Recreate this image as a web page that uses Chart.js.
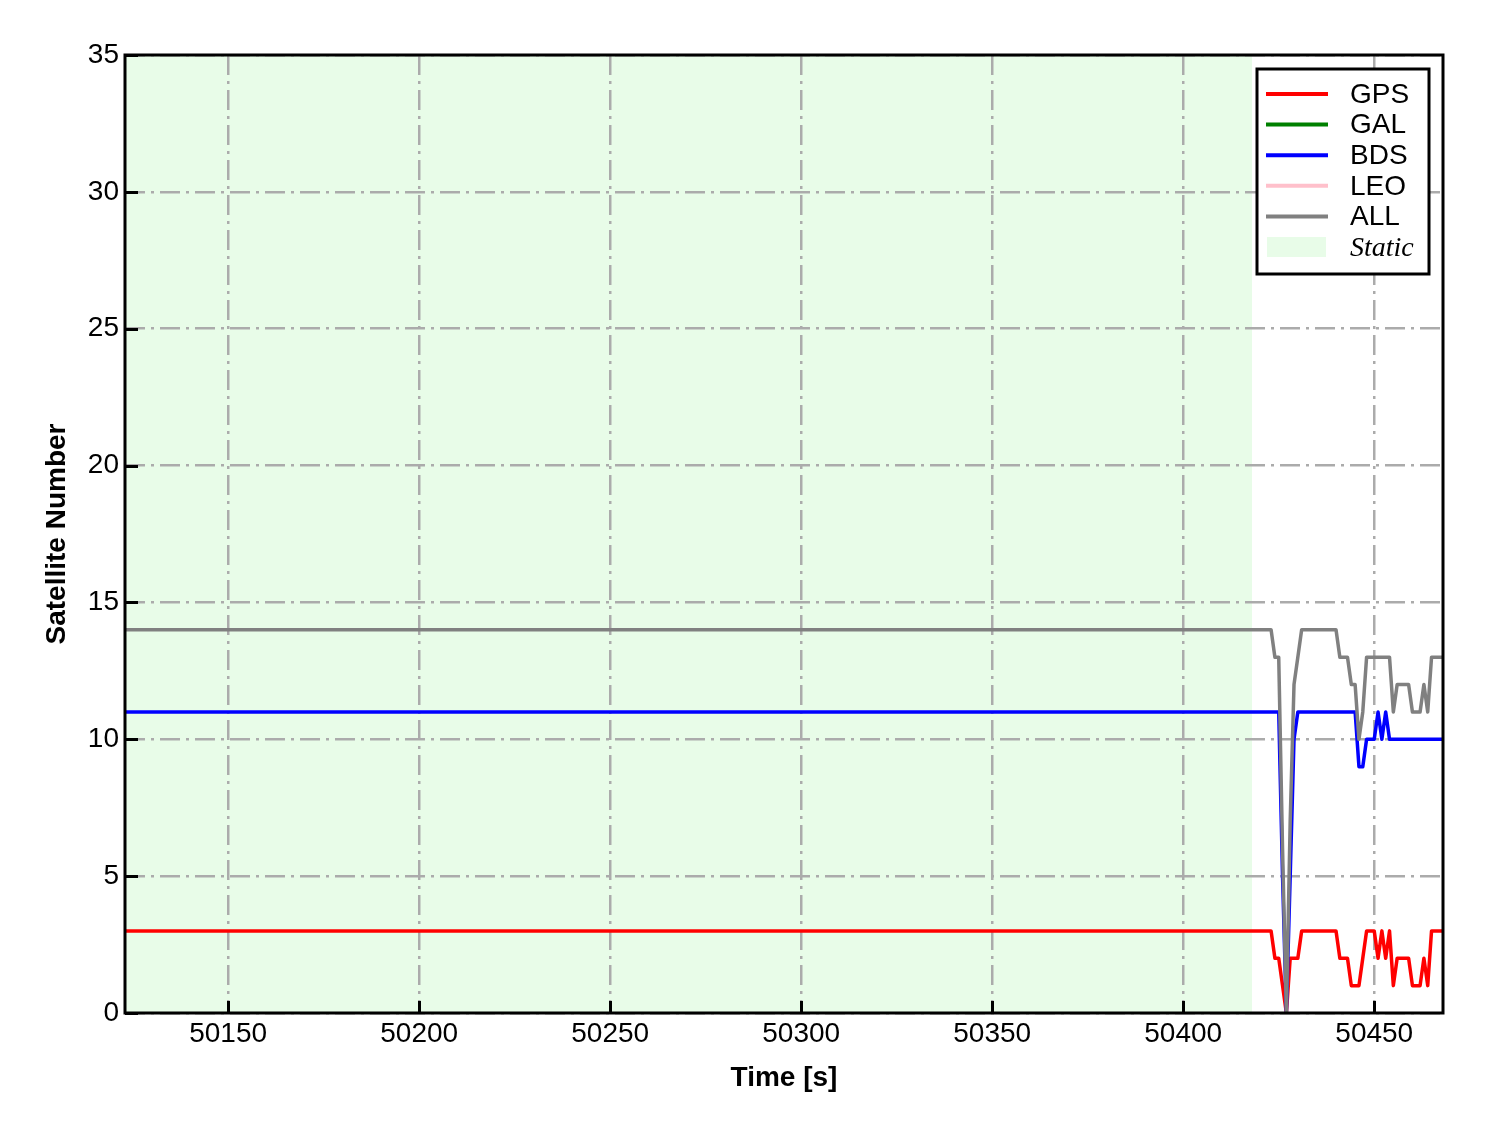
<!DOCTYPE html>
<html>
<head>
<meta charset="utf-8">
<script src="https://cdn.jsdelivr.net/npm/chart.js@4/dist/chart.umd.min.js"></script>
<style>
  html, body { margin: 0; padding: 0; background: #ffffff; }
  #wrap { width: 1488px; height: 1133px; }
</style>
</head>
<body>
<div id="wrap"><canvas id="c" width="1488" height="1133"></canvas></div>
<script>
// ---- data ----
const times = [50123,
  50418, 50419, 50420, 50421, 50422, 50423, 50424, 50425, 50426, 50427,
  50428, 50429, 50430, 50431, 50432, 50433, 50434, 50435, 50436, 50437,
  50438, 50439, 50440, 50441, 50442, 50443, 50444, 50445, 50446, 50447,
  50448, 50449, 50450, 50451, 50452, 50453, 50454, 50455, 50456, 50457,
  50458, 50459, 50460, 50461, 50462, 50463, 50464, 50465, 50466, 50467,
  50468];
const gps = [3,
  3, 3, 3, 3, 3, 3, 2, 2, 1, 0,
  2, 2, 2, 3, 3, 3, 3, 3, 3, 3,
  3, 3, 3, 2, 2, 2, 1, 1, 1, 2,
  3, 3, 3, 2, 3, 2, 3, 1, 2, 2,
  2, 2, 1, 1, 1, 2, 1, 3, 3, 3,
  3];
const gal = [];
const bds = [11,
  11, 11, 11, 11, 11, 11, 11, 11, 5, 0,
  5, 10, 11, 11, 11, 11, 11, 11, 11, 11,
  11, 11, 11, 11, 11, 11, 11, 11, 9, 9,
  10, 10, 10, 11, 10, 11, 10, 10, 10, 10,
  10, 10, 10, 10, 10, 10, 10, 10, 10, 10,
  10];
const leo = [];
const all = [14,
  14, 14, 14, 14, 14, 14, 13, 13, 6, 0,
  7, 12, 13, 14, 14, 14, 14, 14, 14, 14,
  14, 14, 14, 13, 13, 13, 12, 12, 10, 11,
  13, 13, 13, 13, 13, 13, 13, 11, 12, 12,
  12, 12, 11, 11, 11, 12, 11, 13, 13, 13,
  13];
const staticStart = 50123;
const staticEnd = 50418;
const xTickValues = [50150, 50200, 50250, 50300, 50350, 50400, 50450];
const yTickValues = [0, 5, 10, 15, 20, 25, 30, 35];
const seriesNames = ['GPS', 'GAL', 'BDS', 'LEO', 'ALL'];
const seriesColors = ['#ff0000', '#008000', '#0000ff', '#ffc0cb', '#808080'];
const staticColor = '#e8fce8';

const toPts = arr => arr.map((v, i) => ({ x: times[i], y: v }));
const seriesData = [gps, gal, bds, leo, all];

const datasets = seriesData.map((arr, i) => ({
  label: seriesNames[i],
  data: toPts(arr),
  borderColor: seriesColors[i],
  backgroundColor: seriesColors[i],
  borderWidth: 3.5,
  borderJoinStyle: 'round',
  borderCapStyle: 'round',
  pointRadius: 0,
  tension: 0,
  fill: false,
  order: 4 - i
}));

const FONT = '"Liberation Sans", Arial, sans-serif';

const bgPlugin = {
  id: 'bg',
  beforeDraw(chart) {
    const { ctx, chartArea: a, scales: { x } } = chart;
    ctx.save();
    ctx.fillStyle = '#ffffff';
    ctx.fillRect(0, 0, chart.width, chart.height);
    const x0 = Math.max(a.left, x.getPixelForValue(staticStart));
    const x1 = Math.min(a.right, x.getPixelForValue(staticEnd));
    ctx.fillStyle = staticColor;
    ctx.fillRect(x0, a.top, x1 - x0, a.bottom - a.top);
    ctx.restore();
  },
  afterDraw(chart) {
    const { ctx, chartArea: a, scales: { x, y } } = chart;
    ctx.save();
    // inward ticks
    ctx.strokeStyle = '#000';
    ctx.lineWidth = 3;
    ctx.beginPath();
    xTickValues.forEach(v => {
      const px = Math.round(x.getPixelForValue(v)) + 0.5;
      ctx.moveTo(px, a.bottom);
      ctx.lineTo(px, a.bottom - 12);
    });
    yTickValues.forEach(v => {
      const py = Math.round(y.getPixelForValue(v)) + 0.5;
      ctx.moveTo(a.left, py);
      ctx.lineTo(a.left + 13, py);
    });
    ctx.stroke();
    // frame
    ctx.lineWidth = 3;
    ctx.strokeRect(a.left, a.top, a.right - a.left, a.bottom - a.top);

    // legend
    const lx = 1257, ly = 69, lw = 172, lh = 205;
    ctx.fillStyle = '#ffffff';
    ctx.fillRect(lx, ly, lw, lh);
    ctx.lineWidth = 3;
    ctx.strokeStyle = '#000';
    ctx.strokeRect(lx, ly, lw, lh);
    const rowY0 = 94, rowH = 30.6;
    ctx.textBaseline = 'middle';
    ctx.textAlign = 'left';
    seriesNames.forEach((n, i) => {
      const yy = rowY0 + i * rowH;
      ctx.strokeStyle = seriesColors[i];
      ctx.lineWidth = 4;
      ctx.beginPath();
      ctx.moveTo(1266, yy);
      ctx.lineTo(1328, yy);
      ctx.stroke();
      ctx.fillStyle = '#000';
      ctx.font = '28px ' + FONT;
      ctx.fillText(n, 1350, yy + 1);
    });
    const sy = rowY0 + 5 * rowH;
    ctx.fillStyle = staticColor;
    ctx.fillRect(1267, sy - 10, 59, 20);
    ctx.fillStyle = '#000';
    ctx.font = 'italic 28px "Liberation Serif", "Times New Roman", serif';
    ctx.fillText('Static', 1350, sy + 2);
    ctx.restore();
  }
};

new Chart(document.getElementById('c'), {
  type: 'line',
  data: { datasets },
  plugins: [bgPlugin],
  options: {
    responsive: false,
    animation: false,
    devicePixelRatio: 1,
    layout: { padding: { left: 0, top: 55, right: 45, bottom: 0 } },
    plugins: { legend: { display: false }, tooltip: { enabled: false } },
    scales: {
      x: {
        type: 'linear',
        min: times[0],
        max: times[times.length - 1],
        afterFit: s => { s.height = 120; },
        afterBuildTicks: s => { s.ticks = xTickValues.map(v => ({ value: v })); },
        ticks: {
          includeBounds: false,
          autoSkip: false,
          maxRotation: 0,
          padding: 4,
          color: '#000',
          font: { family: FONT, size: 28 },
          callback: v => String(v)
        },
        grid: { color: '#ababab', lineWidth: 2.5, drawTicks: false },
        border: { display: false, dash: [20, 6, 3, 6] },
        title: {
          display: true, text: 'Time [s]', color: '#000',
          font: { family: FONT, size: 28, weight: 'bold' },
          padding: { top: 38, bottom: 38 }
        }
      },
      y: {
        type: 'linear',
        min: 0,
        max: 35,
        afterFit: s => { s.width = 125; },
        afterBuildTicks: s => { s.ticks = yTickValues.map(v => ({ value: v })); },
        ticks: {
          padding: 6,
          color: '#000',
          font: { family: FONT, size: 28 },
          callback: v => String(v)
        },
        grid: { color: '#ababab', lineWidth: 2.5, drawTicks: false },
        border: { display: false, dash: [20, 6, 3, 6] },
        title: {
          display: true, text: 'Satellite Number', color: '#000',
          font: { family: FONT, size: 28, weight: 'bold' },
          padding: { top: 40, bottom: 40 }
        }
      }
    }
  }
});
</script>
</body>
</html>
